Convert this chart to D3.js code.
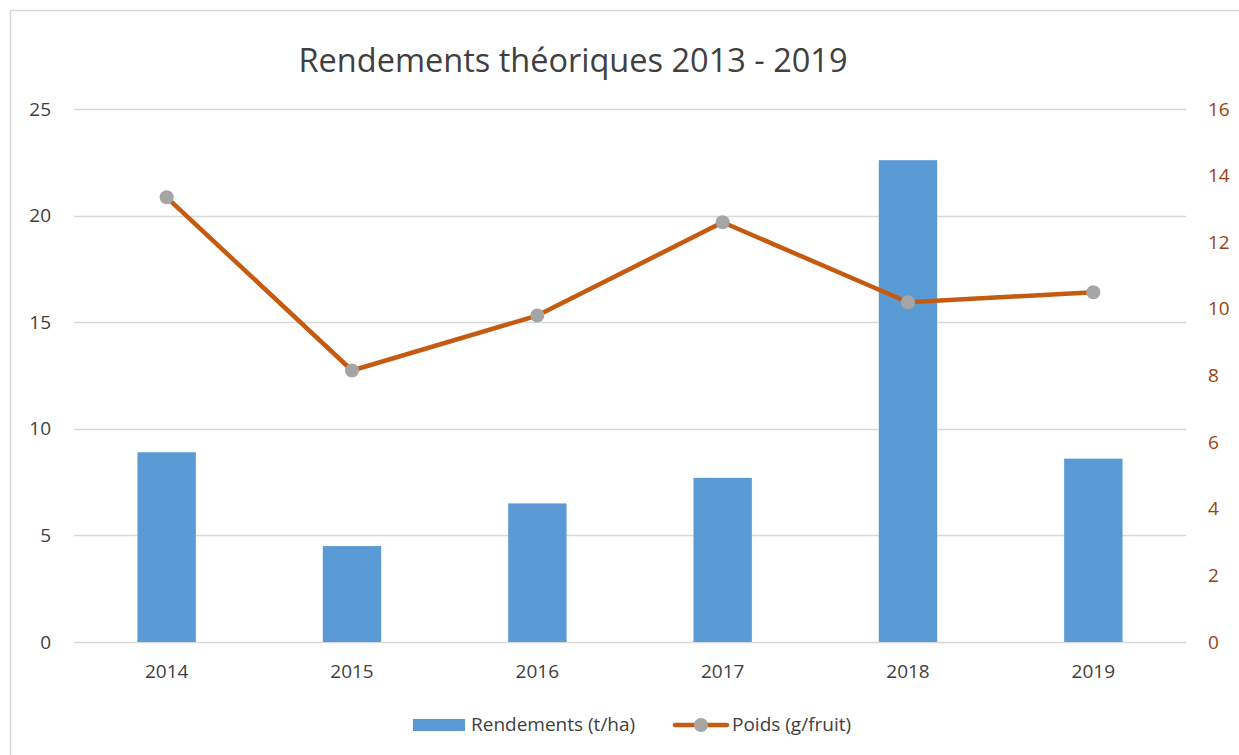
<!DOCTYPE html>
<html>
<head>
<meta charset="utf-8">
<script src="https://cdn.jsdelivr.net/npm/d3@7"></script>
<style>
  body { margin: 0; background: #fff; }
  text { font-family: "Open Sans", "Noto Sans", sans-serif; }
</style>
</head>
<body>
<svg id="chart" width="1239" height="755"></svg>
<script>
// Data
var years = ["2014", "2015", "2016", "2017", "2018", "2019"];
var rendements = [8.9, 4.5, 6.5, 7.7, 22.6, 8.6];
var poids = [13.35, 8.15, 9.8, 12.6, 10.2, 10.5];
var leftTicks = [0, 5, 10, 15, 20, 25];
var rightTicks = [0, 2, 4, 6, 8, 10, 12, 14, 16];

var svg = d3.select("#chart");
var plotLeft = 74, plotRight = 1186, plotTop = 109, plotBottom = 642;
var fs = 19;

// frame
svg.append("rect")
    .attr("x", 10.5).attr("y", 10.5)
    .attr("width", 1260).attr("height", 800)
    .attr("fill", "none").attr("stroke", "#d9d9d9").attr("stroke-width", 1.5);

var x = d3.scaleBand().domain(years).range([plotLeft, plotRight]).paddingInner(0.685).paddingOuter(0.3425);
var y = d3.scaleLinear().domain([0, 25]).range([plotBottom, plotTop]);
var y2 = d3.scaleLinear().domain([0, 16]).range([plotBottom, plotTop]);

// title
svg.append("text")
    .attr("x", 573).attr("y", 72)
    .attr("text-anchor", "middle")
    .attr("font-size", 32.5)
    .attr("fill", "#404040")
    .text("Rendements théoriques 2013 - 2019");

// gridlines
svg.append("g").selectAll("line").data(leftTicks).join("line")
    .attr("x1", plotLeft).attr("x2", plotRight)
    .attr("y1", d => Math.round(y(d)) + 0.5).attr("y2", d => Math.round(y(d)) + 0.5)
    .attr("stroke", "#d9d9d9").attr("stroke-width", 1.5);

// left axis
var yAxis = svg.append("g")
    .attr("transform", "translate(" + (plotLeft - 23) + ",0)")
    .call(d3.axisLeft(y).tickValues(leftTicks).tickSize(0).tickPadding(0));
yAxis.select(".domain").remove();
yAxis.selectAll("text").attr("font-size", fs).attr("fill", "#404040");

// right axis
var y2Axis = svg.append("g")
    .attr("transform", "translate(" + (plotRight + 22) + ",0)")
    .call(d3.axisRight(y2).tickValues(rightTicks).tickSize(0).tickPadding(0));
y2Axis.select(".domain").remove();
y2Axis.selectAll("text").attr("font-size", fs).attr("fill", "#A0410D");

// x axis
var xAxis = svg.append("g")
    .attr("transform", "translate(0," + (plotBottom + 19) + ")")
    .call(d3.axisBottom(x).tickSize(0).tickPadding(0));
xAxis.select(".domain").remove();
xAxis.selectAll("text").attr("font-size", fs).attr("fill", "#404040").attr("dy", "0.9em");

// bars
svg.append("g").selectAll("rect").data(years).join("rect")
    .attr("x", d => x(d))
    .attr("width", x.bandwidth())
    .attr("y", (d, i) => y(rendements[i]))
    .attr("height", (d, i) => y(0) - y(rendements[i]))
    .attr("fill", "#5B9BD5");

// line
var cx = d => x(d) + x.bandwidth() / 2;
var line = d3.line().x((d, i) => cx(years[i])).y(d => y2(d));
svg.append("path")
    .datum(poids)
    .attr("d", line)
    .attr("fill", "none")
    .attr("stroke", "#C55A11")
    .attr("stroke-width", 4.5)
    .attr("stroke-linejoin", "round");

svg.append("g").selectAll("circle").data(poids).join("circle")
    .attr("cx", (d, i) => cx(years[i]))
    .attr("cy", d => y2(d))
    .attr("r", 7)
    .attr("fill", "#A5A5A5");

// legend
var lg = svg.append("g");
lg.append("rect").attr("x", 413).attr("y", 719).attr("width", 52).attr("height", 12).attr("fill", "#5B9BD5");
lg.append("text").attr("x", 471).attr("y", 731).attr("font-size", fs).attr("fill", "#404040").text("Rendements (t/ha)");
lg.append("line").attr("x1", 675).attr("x2", 727).attr("y1", 725).attr("y2", 725)
    .attr("stroke", "#C55A11").attr("stroke-width", 4.5).attr("stroke-linecap", "round");
lg.append("circle").attr("cx", 701).attr("cy", 725).attr("r", 7).attr("fill", "#A5A5A5");
lg.append("text").attr("x", 732).attr("y", 731).attr("font-size", fs).attr("fill", "#404040").text("Poids (g/fruit)");
</script>
</body>
</html>
